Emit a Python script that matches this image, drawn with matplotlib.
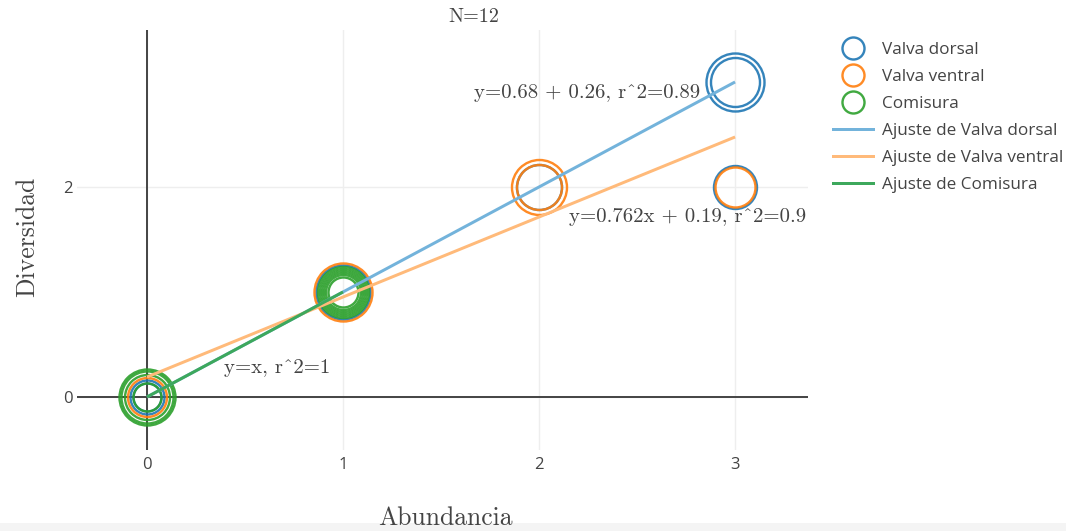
import matplotlib
matplotlib.use("Agg")
import matplotlib.pyplot as plt
from matplotlib.lines import Line2D
from matplotlib.patches import Rectangle
import numpy as np

# ---- data ----
series_names = ["Valva dorsal", "Valva ventral", "Comisura"]
series_colors = ["#1f77b4", "#ff7f0e", "#2ca02c"]

dorsal_x = [0, 0, 1, 2, 3, 3, 3]
dorsal_y = [0, 0, 1, 2, 3, 3, 2]
dorsal_size = [34, 28, 54, 45, 58, 49, 43]

ventral_x = [0, 1, 2, 2, 3]
ventral_y = [0, 1, 2, 2, 2]
ventral_size = [39, 58, 55, 45, 40]

comisura_x = [0, 0, 0, 0, 1, 1, 1, 1, 1, 1]
comisura_y = [0, 0, 0, 0, 1, 1, 1, 1, 1, 1]
comisura_size = [56, 52, 45, 28, 51, 47, 43, 39, 35, 30]

# linear fits: (slope, intercept, x start, x end)
fit_dorsal = (1.0, 0.0, 0, 3)
fit_ventral = (0.762, 0.19, 0, 3)
fit_comisura = (1.0, 0.0, 0, 1)

fit_labels = ["y=0.68 + 0.26, r^2=0.89", "y=0.762x + 0.19, r^2=0.9", "y=x, r^2=1"]
fit_label_pos = [(2.245, 2.895), (2.76, 1.714), (0.663, 0.276)]

x_ticks = [0, 1, 2, 3]
y_ticks = [0, 2]

# ---- figure ----
W, H, DPI = 1066, 531, 100
fig = plt.figure(figsize=(W / DPI, H / DPI), dpi=DPI)
px2pt = 72.0 / DPI

L, R, T, B = 77, 808, 30, 450
ax = fig.add_axes([L / W, 1 - B / H, (R - L) / W, (B - T) / H])
ax.set_xlim(-0.357, 3.372)
ax.set_ylim(-0.505, 3.495)
for s in ax.spines.values():
    s.set_visible(False)

ax.set_xticks(x_ticks)
ax.set_yticks(y_ticks)
ax.tick_params(length=0, labelsize=12, labelcolor="#444444")
ax.tick_params(axis="x", pad=5)
ax.tick_params(axis="y", pad=3)
for lab in ax.get_xticklabels() + ax.get_yticklabels():
    lab.set_family("Open Sans")
ax.grid(True, color="#eeeeee", linewidth=1.0)
ax.set_axisbelow(True)
ax.axhline(0, color="#444444", linewidth=1.4, zorder=1)
ax.axvline(0, color="#444444", linewidth=1.4, zorder=1)

marker_sets = [
    (dorsal_x, dorsal_y, dorsal_size),
    (ventral_x, ventral_y, ventral_size),
    (comisura_x, comisura_y, comisura_size),
]
ring_w = 2.4 * px2pt
for (xs, ys, ss), c in zip(marker_sets, series_colors):
    for x, y, s in zip(xs, ys, ss):
        ax.plot([x], [y], marker="o", markersize=s * px2pt, markerfacecolor="none",
                markeredgecolor=c, markeredgewidth=ring_w, alpha=0.9,
                linestyle="none", zorder=3)

fit_colors = [(0.45, 0.70, 0.86), (1.0, 0.73, 0.48), (0.24, 0.66, 0.36)]
for (m, b, x0, x1), c in zip([fit_dorsal, fit_ventral, fit_comisura], fit_colors):
    xx = np.array([x0, x1], dtype=float)
    ax.plot(xx, m * xx + b, color=c, linewidth=3 * px2pt, zorder=4,
            solid_capstyle="butt")

for txt, (tx, ty) in zip(fit_labels, fit_label_pos):
    ax.text(tx, ty, txt, ha="center", va="center", family="cmr10",
            fontsize=15, color="#444444", zorder=5)

# titles
fig.text(474 / W, 1 - 17 / H, "N=12", ha="center", va="center", family="cmr10",
         fontsize=14.5, color="#444444")
fig.text(445 / W, 1 - 518 / H, "Abundancia", ha="center", va="center", family="cmr10",
         fontsize=18.5, color="#444444", zorder=5)
fig.text(27 / W, 1 - 237 / H, "Diversidad", ha="center", va="center", family="cmr10",
         fontsize=18.5, color="#444444", rotation=90)

# faint strip along the bottom edge
fig.patches.append(Rectangle((0, 0), 1, 8 / H, transform=fig.transFigure,
                             facecolor="#f4f4f4", edgecolor="none", zorder=0))

# legend
handles = []
for name, c in zip(series_names, series_colors):
    handles.append(Line2D([], [], linestyle="none", marker="o", markersize=22 * px2pt,
                          markerfacecolor="none", markeredgecolor=c,
                          markeredgewidth=ring_w, alpha=0.9, label=name))
for name, c in zip(series_names, fit_colors):
    handles.append(Line2D([], [], color=c, linewidth=3 * px2pt, label="Ajuste de " + name))
leg = fig.legend(handles=handles, loc="upper left", bbox_to_anchor=(833 / W, 1 - 42 / H),
                 frameon=False, prop={"family": "Open Sans", "size": 12.3},
                 handlelength=2.35, handletextpad=0.5, labelspacing=0.64,
                 borderaxespad=0, borderpad=0)
for t in leg.get_texts():
    t.set_color("#444444")

fig.savefig("out.png", dpi=DPI)
